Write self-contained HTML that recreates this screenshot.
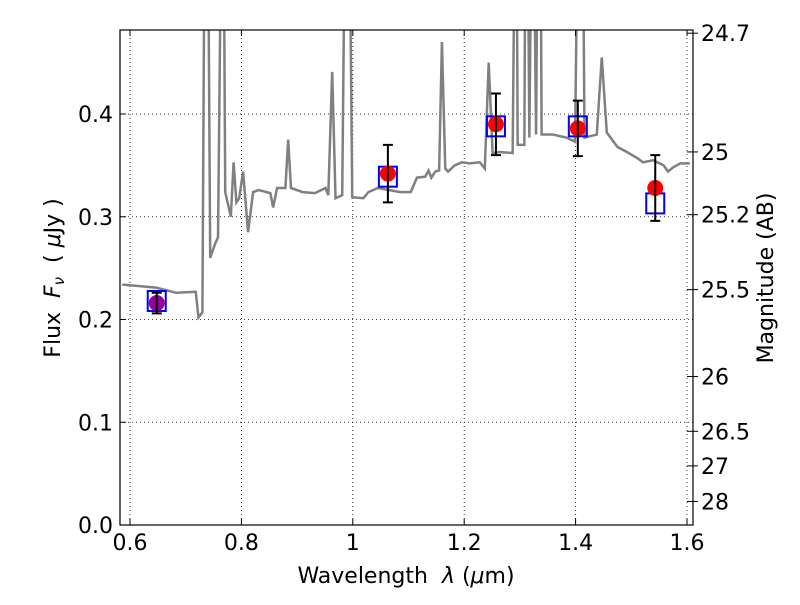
<!DOCTYPE html>
<html><head><meta charset="utf-8"><style>
body{margin:0;background:#fff}
svg text{font-family:"DejaVu Sans","Liberation Sans",sans-serif;fill:#000}
</style></head><body>
<svg id="chart" width="800" height="600" xmlns="http://www.w3.org/2000/svg">
<defs><clipPath id="clip"><rect x="120" y="30" width="573" height="495"/></clipPath></defs>
<g id="grid"></g>
<g id="spec" clip-path="url(#clip)"></g>
<g id="pts"></g>
<rect x="120" y="30" width="573" height="495" fill="none" stroke="#000" stroke-width="1.2"/>
<g id="axes"></g>
<text x="406" y="583" font-size="22" text-anchor="middle">Wavelength&#160;&#160;<tspan font-style="italic">λ</tspan>&#160;(<tspan font-style="italic">μ</tspan>m)</text>
<text transform="translate(60,278) rotate(-90)" font-size="22" text-anchor="middle">Flux&#160;&#160;<tspan font-style="italic">F<tspan font-size="15" dy="4">ν</tspan></tspan><tspan dy="-4">&#160;&#160;(&#160;</tspan><tspan font-style="italic">μ</tspan>Jy&#160;)</text>
<text transform="translate(773,278) rotate(-90)" font-size="22" text-anchor="middle">Magnitude (AB)</text>
</svg>
<script>
const specLam=[0.586,0.647,0.683,0.718,0.723,0.730,0.734,0.740,0.744,0.753,0.758,0.764,0.768,0.771,0.781,0.786,0.791,0.796,0.803,0.812,0.821,0.831,0.852,0.857,0.864,0.879,0.884,0.889,0.910,0.932,0.951,0.956,0.963,0.969,0.981,0.986,0.994,0.999,1.019,1.028,1.045,1.085,1.104,1.115,1.130,1.136,1.141,1.148,1.155,1.160,1.166,1.171,1.183,1.196,1.210,1.228,1.237,1.244,1.251,1.264,1.287,1.291,1.294,1.296,1.308,1.310,1.314,1.317,1.321,1.325,1.329,1.332,1.337,1.339,1.359,1.384,1.399,1.404,1.413,1.416,1.438,1.447,1.456,1.475,1.492,1.511,1.521,1.539,1.558,1.566,1.575,1.588,1.605];
const specFlux=[0.234,0.231,0.226,0.227,0.202,0.207,0.6,0.6,0.260,0.274,0.280,0.6,0.6,0.324,0.300,0.353,0.314,0.318,0.344,0.285,0.324,0.326,0.323,0.309,0.328,0.328,0.375,0.328,0.324,0.323,0.328,0.321,0.441,0.318,0.321,0.6,0.6,0.319,0.318,0.324,0.328,0.324,0.324,0.338,0.339,0.345,0.338,0.344,0.345,0.470,0.347,0.344,0.350,0.353,0.352,0.353,0.347,0.450,0.362,0.363,0.362,0.6,0.6,0.370,0.370,0.6,0.6,0.377,0.6,0.6,0.380,0.6,0.6,0.380,0.380,0.377,0.373,0.6,0.6,0.377,0.380,0.455,0.382,0.368,0.363,0.357,0.353,0.355,0.350,0.344,0.348,0.352,0.352];
const obsLam=[0.648,1.063,1.257,1.404,1.543];
const obsFlux=[0.216,0.342,0.390,0.386,0.328];
const obsErr=[0.010,0.028,0.030,0.027,0.032];
const modelFlux=[0.218,0.339,0.388,0.388,0.313];
const obsColor=['#990099','red','red','red','red'];
const xTicks=[0.6,0.8,1,1.2,1.4,1.6];
const xTickLabels=['0.6','0.8','1','1.2','1.4','1.6'];
const yTicks=[0,0.1,0.2,0.3,0.4];
const yTickLabels=['0.0','0.1','0.2','0.3','0.4'];
const magTicks=[24.7,25,25.2,25.5,26,26.5,27,28];
const magTickLabels=['24.7','25','25.2','25.5','26','26.5','27','28'];
const X=l=>130+(l-0.6)*557;
const Y=f=>525-f*1027.5;
const M=m=>Y(Math.pow(10,(23.9-m)/2.5));
const NS='http://www.w3.org/2000/svg';
function mk(tag,attrs,parent){const e=document.createElementNS(NS,tag);for(const k in attrs)e.setAttribute(k,attrs[k]);document.getElementById(parent).appendChild(e);return e;}
xTicks.forEach((t,i)=>{
 const x=X(t);
 const g=mk('line',{x1:x,x2:x,y1:30,y2:525,stroke:'#000','stroke-dasharray':'1,3','stroke-width':0.8},'grid');
 
 
 mk('line',{x1:x,x2:x,y1:525,y2:519,stroke:'#000'},'axes');
 mk('line',{x1:x,x2:x,y1:30,y2:36,stroke:'#000'},'axes');
 const tx=mk('text',{x:x,y:550,'font-size':22,'text-anchor':'middle'},'axes');tx.textContent=xTickLabels[i];
 
 
});
yTicks.forEach((t,i)=>{
 const y=Y(t);
 if(y>31&&y<524){const g=mk('line',{x1:120,x2:693,y1:y,y2:y,stroke:'#000','stroke-dasharray':'1,3','stroke-width':0.8},'grid');
 
 }
 mk('line',{x1:120,x2:126,y1:y,y2:y,stroke:'#000'},'axes');
 const tx=mk('text',{x:113,y:y+8,'font-size':22,'text-anchor':'end'},'axes');tx.textContent=yTickLabels[i];
 
 
});
magTicks.forEach((m,i)=>{
 const y=M(m);
 mk('line',{x1:693,x2:687,y1:y,y2:y,stroke:'#000'},'axes');
 mk('line',{x1:693,x2:698,y1:y,y2:y,stroke:'#000'},'axes');
 const tx=mk('text',{x:701,y:y+8,'font-size':22},'axes');tx.textContent=magTickLabels[i];
 
 
});
const pl=mk('polyline',{points:specLam.map((l,i)=>X(l)+','+Y(specFlux[i])).join(' '),fill:'none',stroke:'#808080','stroke-width':2.5},'spec');


obsLam.forEach((l,i)=>{
 const x=X(l);
 const r=mk('rect',{x:x-9,y:Y(modelFlux[i])-10,width:18,height:20,fill:'none',stroke:'blue','stroke-width':2},'pts');
 
 
 const c=mk('circle',{cx:x,cy:Y(obsFlux[i]),r:8,fill:obsColor[i]},'pts');
 
 
 const y1=Y(obsFlux[i]+obsErr[i]),y2=Y(obsFlux[i]-obsErr[i]);
 const e=mk('path',{d:`M${x},${y1}V${y2}M${x-5},${y1}H${x+5}M${x-5},${y2}H${x+5}`,stroke:'#000','stroke-width':2,fill:'none'},'pts');
 
 
});
</script>
</body></html>
